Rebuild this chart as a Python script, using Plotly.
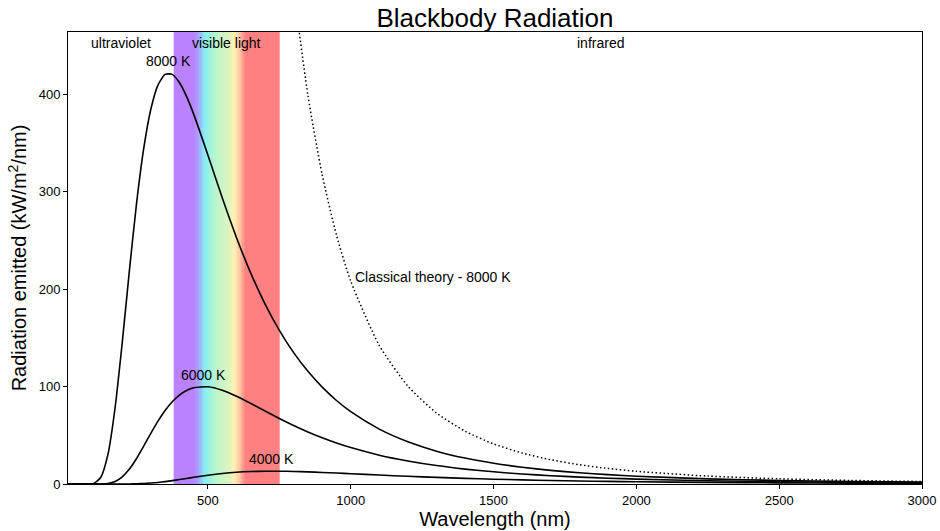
import numpy as np
import plotly.graph_objects as go

# Spectral emittance of a black body, kW/m^2/nm, sampled at these wavelengths (nm)
wavelength_nm = [10, 50, 75, 100, 125, 150, 175, 200, 225, 250, 275, 300, 325, 350,
                 375, 400, 425, 450, 500, 550, 600, 650, 700, 750, 800, 850, 900, 950,
                 1000, 1100, 1200, 1300, 1400, 1500, 1600, 1700, 1800, 1900, 2000,
                 2250, 2500, 2750, 3000]

emit_8000K = [0, 0, 0.006, 0.58, 6.92, 30.6, 78.5, 145.4, 219.2, 288.0, 344.2, 384.6,
              409.4, 420.4, 420.4, 412.0, 397.8, 379.6, 337.4, 293.7, 252.8, 216.3,
              184.7, 157.7, 134.8, 115.6, 99.4, 85.7, 74.2, 56.3, 43.3, 33.7, 26.6,
              21.3, 17.2, 14.0, 11.5, 9.58, 8.02, 5.30, 3.64, 2.58, 1.88]

emit_6000K = [0, 0, 0, 0.001, 0.057, 0.56, 2.55, 7.26, 15.3, 26.2, 38.9, 52.0, 64.5,
              75.5, 84.4, 91.3, 96.0, 98.8, 99.8, 96.2, 90.1, 82.7, 74.9, 67.2, 60.0,
              53.4, 47.4, 42.1, 37.4, 29.6, 23.6, 18.9, 15.3, 12.5, 10.3, 8.51, 7.10,
              5.97, 5.05, 3.41, 2.38, 1.71, 1.26]

emit_4000K = [0, 0, 0, 0, 0, 0.0002, 0.003, 0.018, 0.074, 0.216, 0.496, 0.956, 1.61,
              2.45, 3.45, 4.54, 5.70, 6.85, 9.00, 10.76, 12.02, 12.79, 13.14, 13.14,
              12.88, 12.43, 11.86, 11.22, 10.54, 9.18, 7.90, 6.76, 5.77, 4.93, 4.21,
              3.61, 3.11, 2.68, 2.32, 1.64, 1.19, 0.88, 0.66]

# Rayleigh-Jeans prediction at 8000 K
classical_nm = [800, 850, 900, 950, 1000, 1100, 1200, 1300, 1400, 1500, 1600, 1700,
                1800, 1900, 2000, 2250, 2500, 2750, 3000]
classical_8000K = [508.1, 398.7, 317.2, 255.5, 208.1, 142.1, 100.4, 72.9, 54.2, 41.1,
                   31.8, 24.9, 19.8, 16.0, 13.0, 8.12, 5.33, 3.64, 2.57]

peak_nm = [362, 483, 724]
peak_val = [421.7, 100.0, 13.2]
peak_text = ["8000 K", "6000 K", "4000 K"]

x_range = [10, 3000]
y_max = 1.1 * max(emit_8000K + peak_val)

# Visible band (380-750 nm) drawn as a spectrum strip
band_start, band_end = 380, 750
band_edges = np.arange(band_start, band_end + 1, 2)
band_mid = (band_edges[:-1] + band_edges[1:]) / 2
spectrum_stops = [
    (380, "#bb82ff"), (450, "#bb82ff"), (468, "#a4a8ff"), (487, "#88ecf2"),
    (505, "#9af4e0"), (530, "#bff5cb"), (570, "#daf5c0"), (592, "#fff0b4"),
    (612, "#ffc2a2"), (630, "#ff8080"), (750, "#ff8080"),
]
colorscale = [[(w - band_start) / (band_end - band_start), c] for w, c in spectrum_stops]

FONT = "Liberation Sans, Arial, sans-serif"

fig = go.Figure()

fig.add_trace(go.Heatmap(
    x=band_edges, y=[0, y_max], z=[band_mid, band_mid],
    zmin=band_start, zmax=band_end, colorscale=colorscale,
    showscale=False, hoverinfo="skip",
))

for series in (emit_8000K, emit_6000K, emit_4000K):
    fig.add_trace(go.Scatter(
        x=wavelength_nm, y=series, mode="lines",
        line=dict(color="black", width=1.6, shape="spline", smoothing=0.6),
        showlegend=False,
    ))

fig.add_trace(go.Scatter(
    x=classical_nm, y=classical_8000K, mode="lines",
    line=dict(color="black", width=1.5, dash="1.5px,2.5px", shape="spline",
              smoothing=0.6),
    showlegend=False,
))

annotations = []
for x, y, t in zip(peak_nm, peak_val, peak_text):
    annotations.append(dict(x=x, y=y, text=t, showarrow=False, xanchor="center",
                            yanchor="bottom", yshift=2, font=dict(size=14)))

annotations.append(dict(x=classical_nm[4], y=212, text="Classical theory - 8000 K",
                        showarrow=False, xanchor="left", yanchor="middle", xshift=2,
                        font=dict(size=14)))

region_labels = [("ultraviolet", 196), ("visible light", (band_start + band_end) / 2),
                 ("infrared", (band_end + x_range[1]) / 2)]
for t, x in region_labels:
    annotations.append(dict(x=x, y=0.976, yref="paper", text=t, showarrow=False,
                            xanchor="center", yanchor="middle", font=dict(size=14)))

fig.update_layout(
    width=940, height=531,
    margin=dict(l=68, r=18, t=32, b=47, autoexpand=False),
    paper_bgcolor="white", plot_bgcolor="white",
    font=dict(family=FONT, color="black", size=13),
    title=dict(text="Blackbody Radiation", x=0.5, xref="paper", y=1 - 18 / 531,
               yref="container", xanchor="center", yanchor="middle",
               font=dict(size=26)),
    annotations=annotations,
    showlegend=False,
)

axis_common = dict(showline=True, linecolor="black", linewidth=1, mirror=True,
                   ticks="outside", ticklen=4, tickcolor="black", showgrid=False,
                   zeroline=False, automargin=False)

fig.update_xaxes(range=x_range, tickvals=[500, 1000, 1500, 2000, 2500, 3000],
                 title=dict(text="Wavelength (nm)", font=dict(size=20), standoff=2),
                 **axis_common)
fig.update_yaxes(range=[0, y_max], tickvals=[0, 100, 200, 300, 400],
                 title=dict(text="Radiation emitted (kW/m<sup>2</sup>/nm)",
                            font=dict(size=20), standoff=6),
                 **axis_common)

fig.write_html("out.html")
